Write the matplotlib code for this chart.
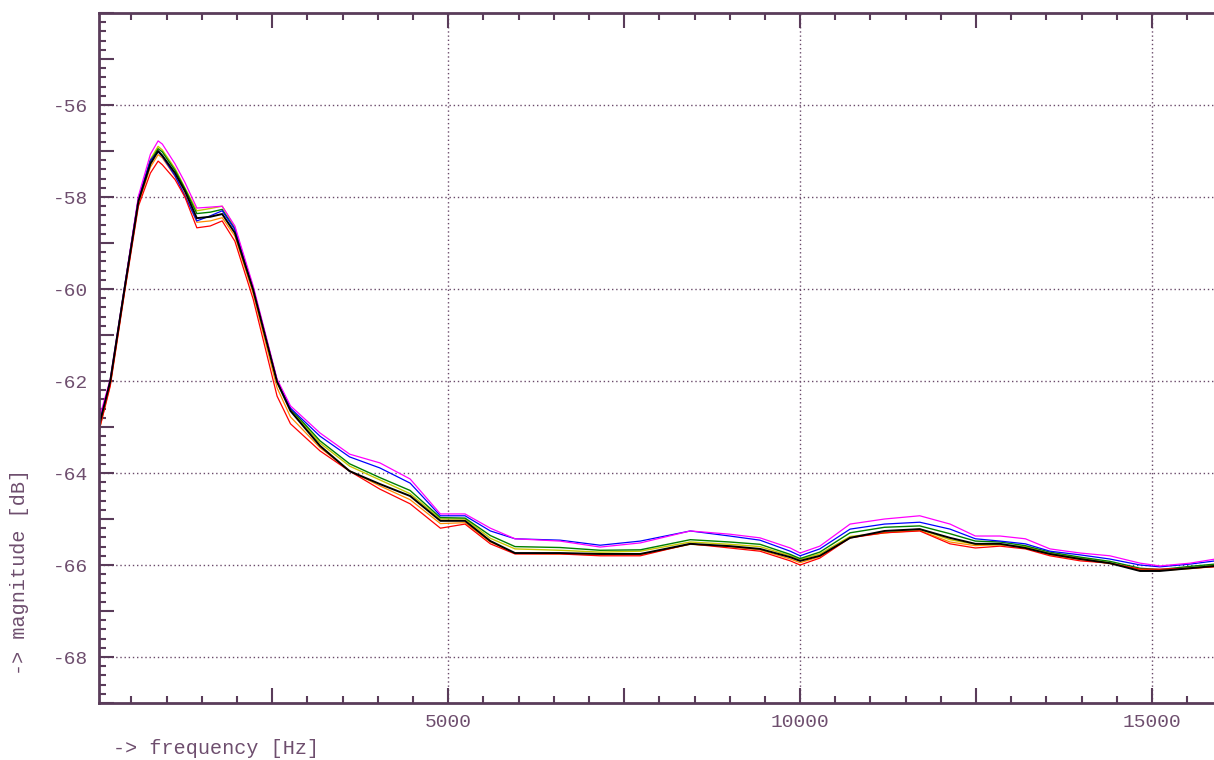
import matplotlib
matplotlib.use("Agg")
import matplotlib.pyplot as plt
from matplotlib.ticker import MultipleLocator, FuncFormatter

# frequency points [Hz] shared by all measurements
freq = [40, 200, 400, 600, 770, 880, 940, 1120, 1260, 1430, 1620, 1790, 1970, 2230, 2570, 2760,
        3180, 3600, 4030, 4460, 4890, 5240, 5600, 5950, 6590, 7160, 7730, 8440, 9000,
        9430, 9860, 10000, 10280, 10710, 11200, 11700, 12130, 12490, 12840, 13200,
        13550, 13980, 14400, 14830, 15110, 15540, 15900]

mag_magenta = [-62.83, -61.96, -59.98, -57.98, -57.07, -56.78, -56.85, -57.28, -57.68, -58.24, -58.22, -58.20,
               -58.63, -59.93, -61.96, -62.54, -63.13, -63.59, -63.78, -64.13, -64.89, -64.89,
               -65.20, -65.43, -65.48, -65.61, -65.52, -65.26, -65.33, -65.41, -65.63, -65.74,
               -65.59, -65.11, -65.00, -64.93, -65.11, -65.37, -65.37, -65.43, -65.65, -65.74,
               -65.80, -65.96, -66.02, -65.96, -65.87]
mag_blue = [-62.91, -62.00, -60.00, -58.02, -57.20, -57.02, -57.12, -57.54, -57.98, -58.52, -58.41, -58.30,
            -58.70, -59.98, -62.00, -62.59, -63.20, -63.65, -63.89, -64.22, -64.93, -64.93,
            -65.26, -65.43, -65.46, -65.57, -65.48, -65.26, -65.37, -65.46, -65.70, -65.80,
            -65.65, -65.22, -65.11, -65.07, -65.22, -65.43, -65.48, -65.54, -65.70, -65.78,
            -65.87, -66.00, -66.04, -65.98, -65.91]
mag_green = [-62.95, -62.00, -60.00, -58.07, -57.22, -56.95, -57.02, -57.42, -57.82, -58.36, -58.33, -58.27,
             -58.70, -59.99, -62.00, -62.60, -63.30, -63.80, -64.10, -64.38, -64.97, -64.98,
             -65.36, -65.60, -65.62, -65.68, -65.67, -65.45, -65.50, -65.55, -65.77, -65.86,
             -65.72, -65.30, -65.18, -65.15, -65.32, -65.48, -65.50, -65.58, -65.72, -65.83,
             -65.92, -66.07, -66.10, -66.03, -65.98]
mag_yellow = [-63.08, -62.05, -60.02, -58.05, -57.18, -56.90, -56.98, -57.38, -57.80, -58.30, -58.25, -58.20,
              -58.66, -60.00, -62.03, -62.62, -63.35, -63.85, -64.15, -64.45, -65.00, -65.00,
              -65.42, -65.65, -65.68, -65.72, -65.70, -65.50, -65.55, -65.60, -65.80, -65.88,
              -65.76, -65.38, -65.30, -65.22, -65.45, -65.55, -65.56, -65.60, -65.75, -65.85,
              -65.95, -66.10, -66.12, -66.06, -66.00]
mag_orange = [-63.05, -62.08, -60.08, -58.15, -57.35, -57.08, -57.15, -57.55, -57.95, -58.55, -58.52, -58.45,
              -58.85, -60.10, -62.15, -62.78, -63.45, -63.95, -64.28, -64.58, -65.10, -65.08,
              -65.50, -65.75, -65.76, -65.78, -65.78, -65.55, -65.60, -65.67, -65.87, -65.95,
              -65.82, -65.40, -65.30, -65.25, -65.50, -65.58, -65.56, -65.62, -65.78, -65.88,
              -65.97, -66.10, -66.12, -66.08, -66.03]
mag_red = [-63.09, -62.11, -60.11, -58.20, -57.48, -57.22, -57.30, -57.62, -58.00, -58.67, -58.63, -58.52,
           -58.96, -60.22, -62.33, -62.93, -63.52, -63.96, -64.35, -64.67, -65.20, -65.11,
           -65.54, -65.76, -65.76, -65.80, -65.80, -65.54, -65.63, -65.70, -65.91, -66.00,
           -65.85, -65.41, -65.30, -65.26, -65.54, -65.63, -65.59, -65.65, -65.80, -65.91,
           -65.96, -66.09, -66.09, -66.07, -66.04]
mag_black = [-62.98, -62.00, -60.02, -58.09, -57.28, -57.00, -57.10, -57.48, -57.87, -58.46, -58.43, -58.37,
             -58.78, -60.02, -62.02, -62.65, -63.41, -63.96, -64.24, -64.50, -65.04, -65.04,
             -65.48, -65.74, -65.74, -65.76, -65.76, -65.54, -65.59, -65.65, -65.83, -65.91,
             -65.80, -65.41, -65.26, -65.22, -65.41, -65.54, -65.54, -65.63, -65.76, -65.87,
             -65.96, -66.13, -66.13, -66.07, -66.02]

x_labels = [5000, 10000, 15000]
y_labels = [-68, -66, -64, -62, -60, -58, -56]

frame = "#5a3c5a"
textc = "#6e4e6e"
gridc = "#6a4a6a"

plt.rcParams['axes.unicode_minus'] = False
plt.rcParams['font.family'] = ['Liberation Mono', 'DejaVu Sans Mono']

fig = plt.figure(figsize=(12.14, 7.6), dpi=100)
ax = fig.add_axes([99/1214, 57/760, 1 - 99/1214, 690/760])

for v in x_labels:
    ax.axvline(v, color=gridc, lw=1, ls=(0, (1, 2)), zorder=1)
for v in y_labels:
    ax.axhline(v, color=gridc, lw=1, ls=(0, (1, 2)), zorder=1)

ax.plot(freq, mag_orange, color="#ff8c00", lw=0.9)
ax.plot(freq, mag_yellow, color="#c8c800", lw=1.0)
ax.plot(freq, mag_green, color="#008000", lw=1.0)
ax.plot(freq, mag_blue, color="#0000ff", lw=0.9)
ax.plot(freq, mag_magenta, color="#ff00ff", lw=0.9)
ax.plot(freq, mag_red, color="#ff0000", lw=0.9)
ax.plot(freq, mag_black, color="#000000", lw=1.4)

ax.set_xlim(40, 15880)
ax.set_ylim(-69, -54)

ax.xaxis.set_major_locator(MultipleLocator(2500))
ax.xaxis.set_minor_locator(MultipleLocator(500))
ax.yaxis.set_major_locator(MultipleLocator(1))
ax.yaxis.set_minor_locator(MultipleLocator(0.2))
ax.xaxis.set_major_formatter(FuncFormatter(lambda v, p: f"{int(v)}" if int(v) in x_labels else ""))
ax.yaxis.set_major_formatter(FuncFormatter(lambda v, p: f"{int(round(v))}" if int(round(v)) in y_labels else ""))

ax.tick_params(which='both', direction='in', top=True, right=False, colors=frame,
               labelcolor=textc, labelsize=14, width=1.5)
ax.tick_params(which='major', length=11, pad=8)
ax.tick_params(which='minor', length=5)

for s in ['left', 'bottom', 'top']:
    ax.spines[s].set_color(frame)
    ax.spines[s].set_linewidth(2)
ax.spines['right'].set_visible(False)

fig.text(20/1214, 1 - 572/760, "-> magnitude [dB]", rotation=90, ha='center', va='center',
         color=textc, fontsize=14.5)
fig.text(113/1214, 1 - 748/760, "-> frequency [Hz]", ha='left', va='center',
         color=textc, fontsize=14.5)

fig.savefig("out.png", dpi=100)
